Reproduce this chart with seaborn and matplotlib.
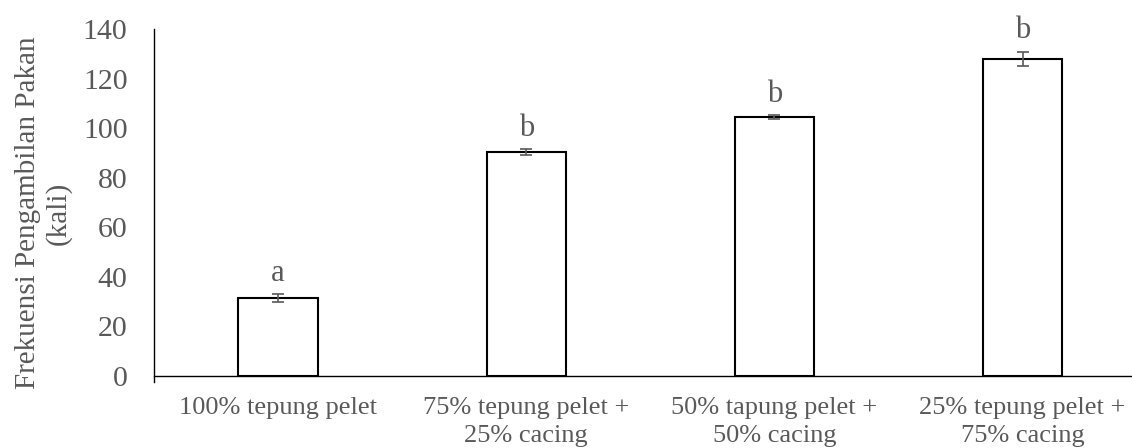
import pandas as pd
import seaborn as sns
import matplotlib.pyplot as plt

# data
perlakuan = ["100% tepung pelet", "75% tepung pelet +\n25% cacing",
             "50% tapung pelet +\n50% cacing", "25% tepung pelet +\n75% cacing"]
frekuensi = [31.3, 90.3, 104.3, 128.0]
galat = [1.6, 1.2, 0.8, 2.8]
notasi = ["a", "b", "b", "b"]

df = pd.DataFrame({"perlakuan": perlakuan, "frekuensi": frekuensi})

sns.set_style("white")
plt.rcParams['font.family'] = ['Liberation Serif', 'DejaVu Serif']
grey = "#595959"

fig = plt.figure(figsize=(11.32, 4.48), dpi=100)
ax = fig.add_axes([0.136, 0.1607, 0.877, 0.7746])

sns.barplot(data=df, x="perlakuan", y="frekuensi", color="white",
            edgecolor="black", linewidth=1.5, width=0.32, errorbar=None,
            saturation=1, ax=ax)
ax.errorbar(range(len(frekuensi)), frekuensi, yerr=galat, fmt="none",
            ecolor=grey, elinewidth=1.2, capsize=4, capthick=1.2)

for i, (v, e, t) in enumerate(zip(frekuensi, galat, notasi)):
    ax.text(i, v + e + 5.5, t, ha="center", va="baseline",
            fontsize=22, color=grey)

ax.set_xlim(-0.5, 3.5)
ax.set_ylim(0, 140)
ax.set_yticks(range(0, 141, 20))
ax.tick_params(axis="y", length=0, pad=19, labelsize=21.5, labelcolor=grey)
ax.tick_params(axis="x", length=0, pad=15, labelsize=19, labelcolor=grey)
for lab in ax.get_xticklabels():
    lab.set_linespacing(1.36)

ax.set_xlabel("")
ax.set_ylabel("Frekuensi Pengambilan Pakan\n(kali)", fontsize=21, color=grey,
              linespacing=1.2, labelpad=8)
ax.yaxis.label.set_y(0.47)

ax.spines[['right', 'top']].set_visible(False)
for s in ['left', 'bottom']:
    ax.spines[s].set_color("black")
    ax.spines[s].set_linewidth(1.0)
ax.spines['left'].set_bounds(-2.5, 140)

fig.savefig("out.png", dpi=100)
